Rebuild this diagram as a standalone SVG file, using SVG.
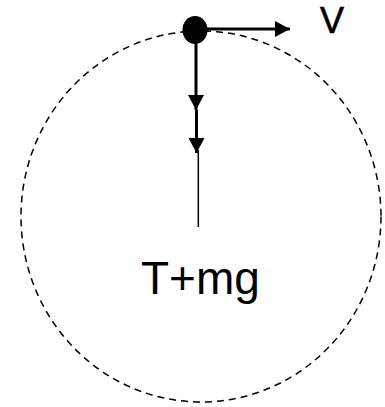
<svg xmlns="http://www.w3.org/2000/svg" width="385" height="407" viewBox="0 0 385 407">
<style>
.lbl{font-family:"Liberation Sans",Arial,sans-serif;fill:#000}
.vec{stroke:#000;stroke-width:3;fill:none}
</style>
<defs>
<marker id="ah" markerWidth="16" markerHeight="16" refX="15" refY="8" orient="auto" markerUnits="userSpaceOnUse">
<path d="M0,0 L15,8 L0,16 Z" fill="#000"/>
</marker>
</defs>
<rect width="385" height="407" fill="#fff"/>
<g id="path-circle">
<ellipse cx="201" cy="216.5" rx="180" ry="185.5" fill="none" stroke="#000" stroke-width="1.5" stroke-dasharray="7,5"/>
</g>
<g id="connectors">
<line x1="198.3" y1="150" x2="198.3" y2="227" stroke="#000" stroke-width="1.5"/>
<line class="vec" x1="196" y1="40" x2="196" y2="110" marker-end="url(#ah)"/>
<line class="vec" x1="196.5" y1="110" x2="196.5" y2="153" marker-end="url(#ah)"/>
<line class="vec" x1="205" y1="29" x2="290" y2="29" marker-end="url(#ah)"/>
</g>
<g id="ball">
<ellipse cx="195" cy="30" rx="12.5" ry="14" fill="#000"/>
</g>
<g id="label-v">
<text class="lbl" x="320" y="33.3" font-size="36" stroke="#000" stroke-width="0.6">V</text>
</g>
<g id="label-tmg">
<text class="lbl" x="141" y="294" font-size="46">T+mg</text>
</g>
</svg>
